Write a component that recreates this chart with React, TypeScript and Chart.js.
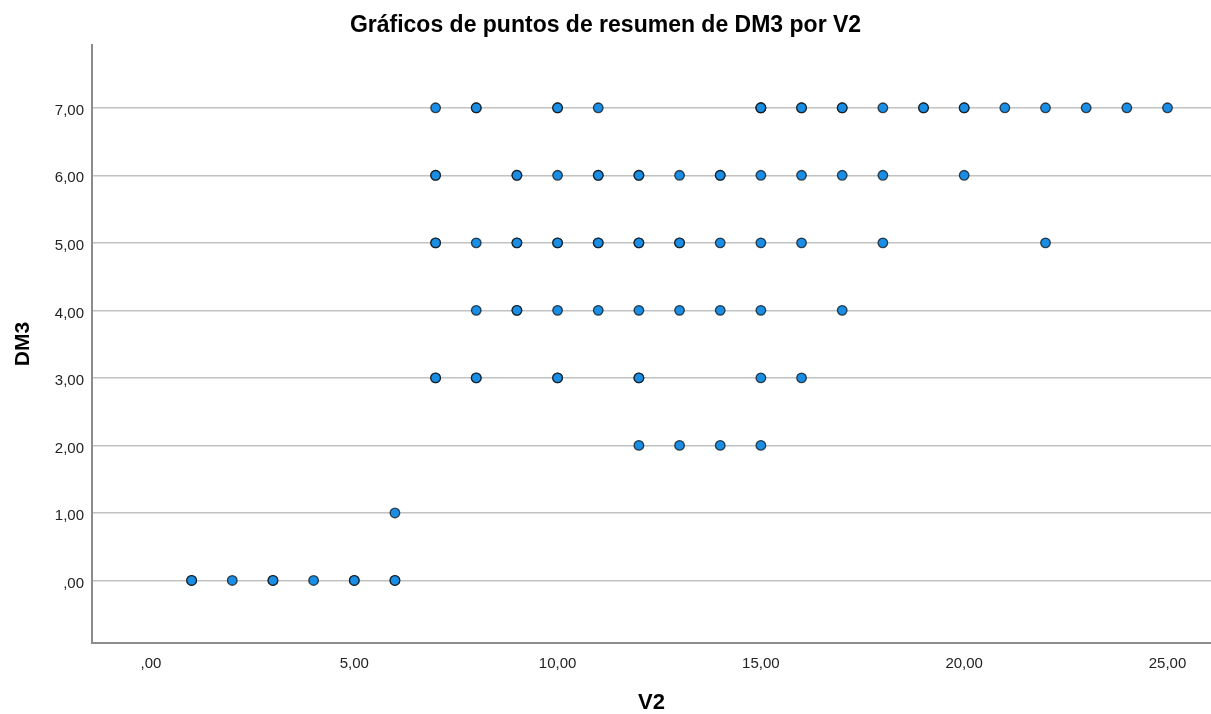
import React, { useEffect, useRef } from "react";
import { Chart, registerables } from "chart.js";

Chart.register(...registerables);

// V2 values observed at each DM3 level (repeats = overlapping cases)
const v2AtDm3_0 = [1, 1, 2, 3, 3, 4, 5, 5, 6, 6];
const v2AtDm3_1 = [6];
const v2AtDm3_2 = [12, 13, 14, 15];
const v2AtDm3_3 = [7, 7, 8, 8, 10, 10, 12, 12, 15, 16];
const v2AtDm3_4 = [8, 9, 9, 10, 11, 12, 13, 14, 15, 17];
const v2AtDm3_5 = [7, 7, 8, 9, 9, 10, 10, 11, 11, 12, 12, 13, 13, 14, 15, 16, 18, 22];
const v2AtDm3_6 = [7, 7, 9, 9, 10, 11, 11, 12, 12, 13, 14, 14, 15, 16, 17, 18, 20];
const v2AtDm3_7 = [7, 8, 8, 10, 10, 11, 15, 15, 15, 16, 16, 17, 17, 18, 19, 19, 20, 20, 21, 22, 23, 24, 25];

const dm3Levels = [0, 1, 2, 3, 4, 5, 6, 7];
const v2ByLevel = [v2AtDm3_0, v2AtDm3_1, v2AtDm3_2, v2AtDm3_3, v2AtDm3_4, v2AtDm3_5, v2AtDm3_6, v2AtDm3_7];

const xTickValues = [0, 5, 10, 15, 20, 25];
const xTickLabels = [",00", "5,00", "10,00", "15,00", "20,00", "25,00"];
const yTickValues = [0, 1, 2, 3, 4, 5, 6, 7];
const yTickLabels = [",00", "1,00", "2,00", "3,00", "4,00", "5,00", "6,00", "7,00"];

const FONT = "'Liberation Sans', Arial, Helvetica, sans-serif";

export default function App() {
  const ref = useRef<HTMLCanvasElement | null>(null);

  useEffect(() => {
    if (!ref.current) return;
    const points: { x: number; y: number }[] = [];
    dm3Levels.forEach((lvl, i) => {
      v2ByLevel[i].forEach((v) => points.push({ x: v, y: lvl }));
    });

    const chart = new Chart(ref.current, {
      type: "scatter",
      data: {
        datasets: [
          {
            label: "DM3",
            data: points,
            backgroundColor: "#1a8de4",
            borderColor: "rgba(10,10,10,0.72)",
            borderWidth: 1.3,
            pointRadius: 4.8,
          },
        ],
      },
      options: {
        animation: false,
        responsive: false,
        layout: { padding: 0, autoPadding: false },
        plugins: {
          legend: { display: false },
          tooltip: { enabled: false },
          title: {
            display: true,
            text: "Gráficos de puntos de resumen de DM3 por V2",
            color: "#000",
            font: { family: FONT, size: 23, weight: "bold", lineHeight: 1.2 },
            padding: { top: 11.5, bottom: 5.9 },
          },
        },
        scales: {
          x: {
            type: "linear",
            min: -1.45,
            max: 26.07,
            afterBuildTicks: (scale: any) => {
              scale.ticks = xTickValues.map((v) => ({ value: v }));
            },
            afterFit: (scale: any) => {
              scale.height = 71;
            },
            grid: { display: false, drawTicks: false },
            border: { display: true, color: "#8c8c8c", width: 2 },
            ticks: {
              color: "#222",
              font: { family: FONT, size: 15 },
              padding: 12,
              maxRotation: 0,
              callback: (value: any) => {
                const i = xTickValues.indexOf(Number(value));
                return i >= 0 ? xTickLabels[i] : "";
              },
            },
            title: {
              display: true,
              text: "V2",
              color: "#000",
              font: { family: FONT, size: 22, weight: "bold", lineHeight: 1 },
              padding: { top: 0, bottom: 0 },
            },
          },
          y: {
            type: "linear",
            min: -0.926,
            max: 7.93,
            afterBuildTicks: (scale: any) => {
              scale.ticks = yTickValues.map((v) => ({ value: v }));
            },
            afterFit: (scale: any) => {
              scale.width = 92;
            },
            grid: { display: true, drawTicks: false, color: "#c2c2c2", lineWidth: 1.6 },
            border: { display: true, color: "#8c8c8c", width: 2 },
            ticks: {
              color: "#222",
              font: { family: FONT, size: 15 },
              padding: 8,
              labelOffset: 3,
              callback: (value: any) => {
                const i = yTickValues.indexOf(Number(value));
                return i >= 0 ? yTickLabels[i] : "";
              },
            },
            title: {
              display: true,
              text: "DM3",
              color: "#000",
              font: { family: FONT, size: 21, weight: "bold", lineHeight: 1 },
              padding: { top: 12.5, bottom: 0 },
            },
          },
        },
      },
    } as any);

    return () => chart.destroy();
  }, []);

  return (
    <div style={{ position: "fixed", left: 0, top: 0, width: 1211, height: 714, background: "#fff" }}>
      <canvas ref={ref} width={1211} height={714} style={{ display: "block" }} />
    </div>
  );
}
